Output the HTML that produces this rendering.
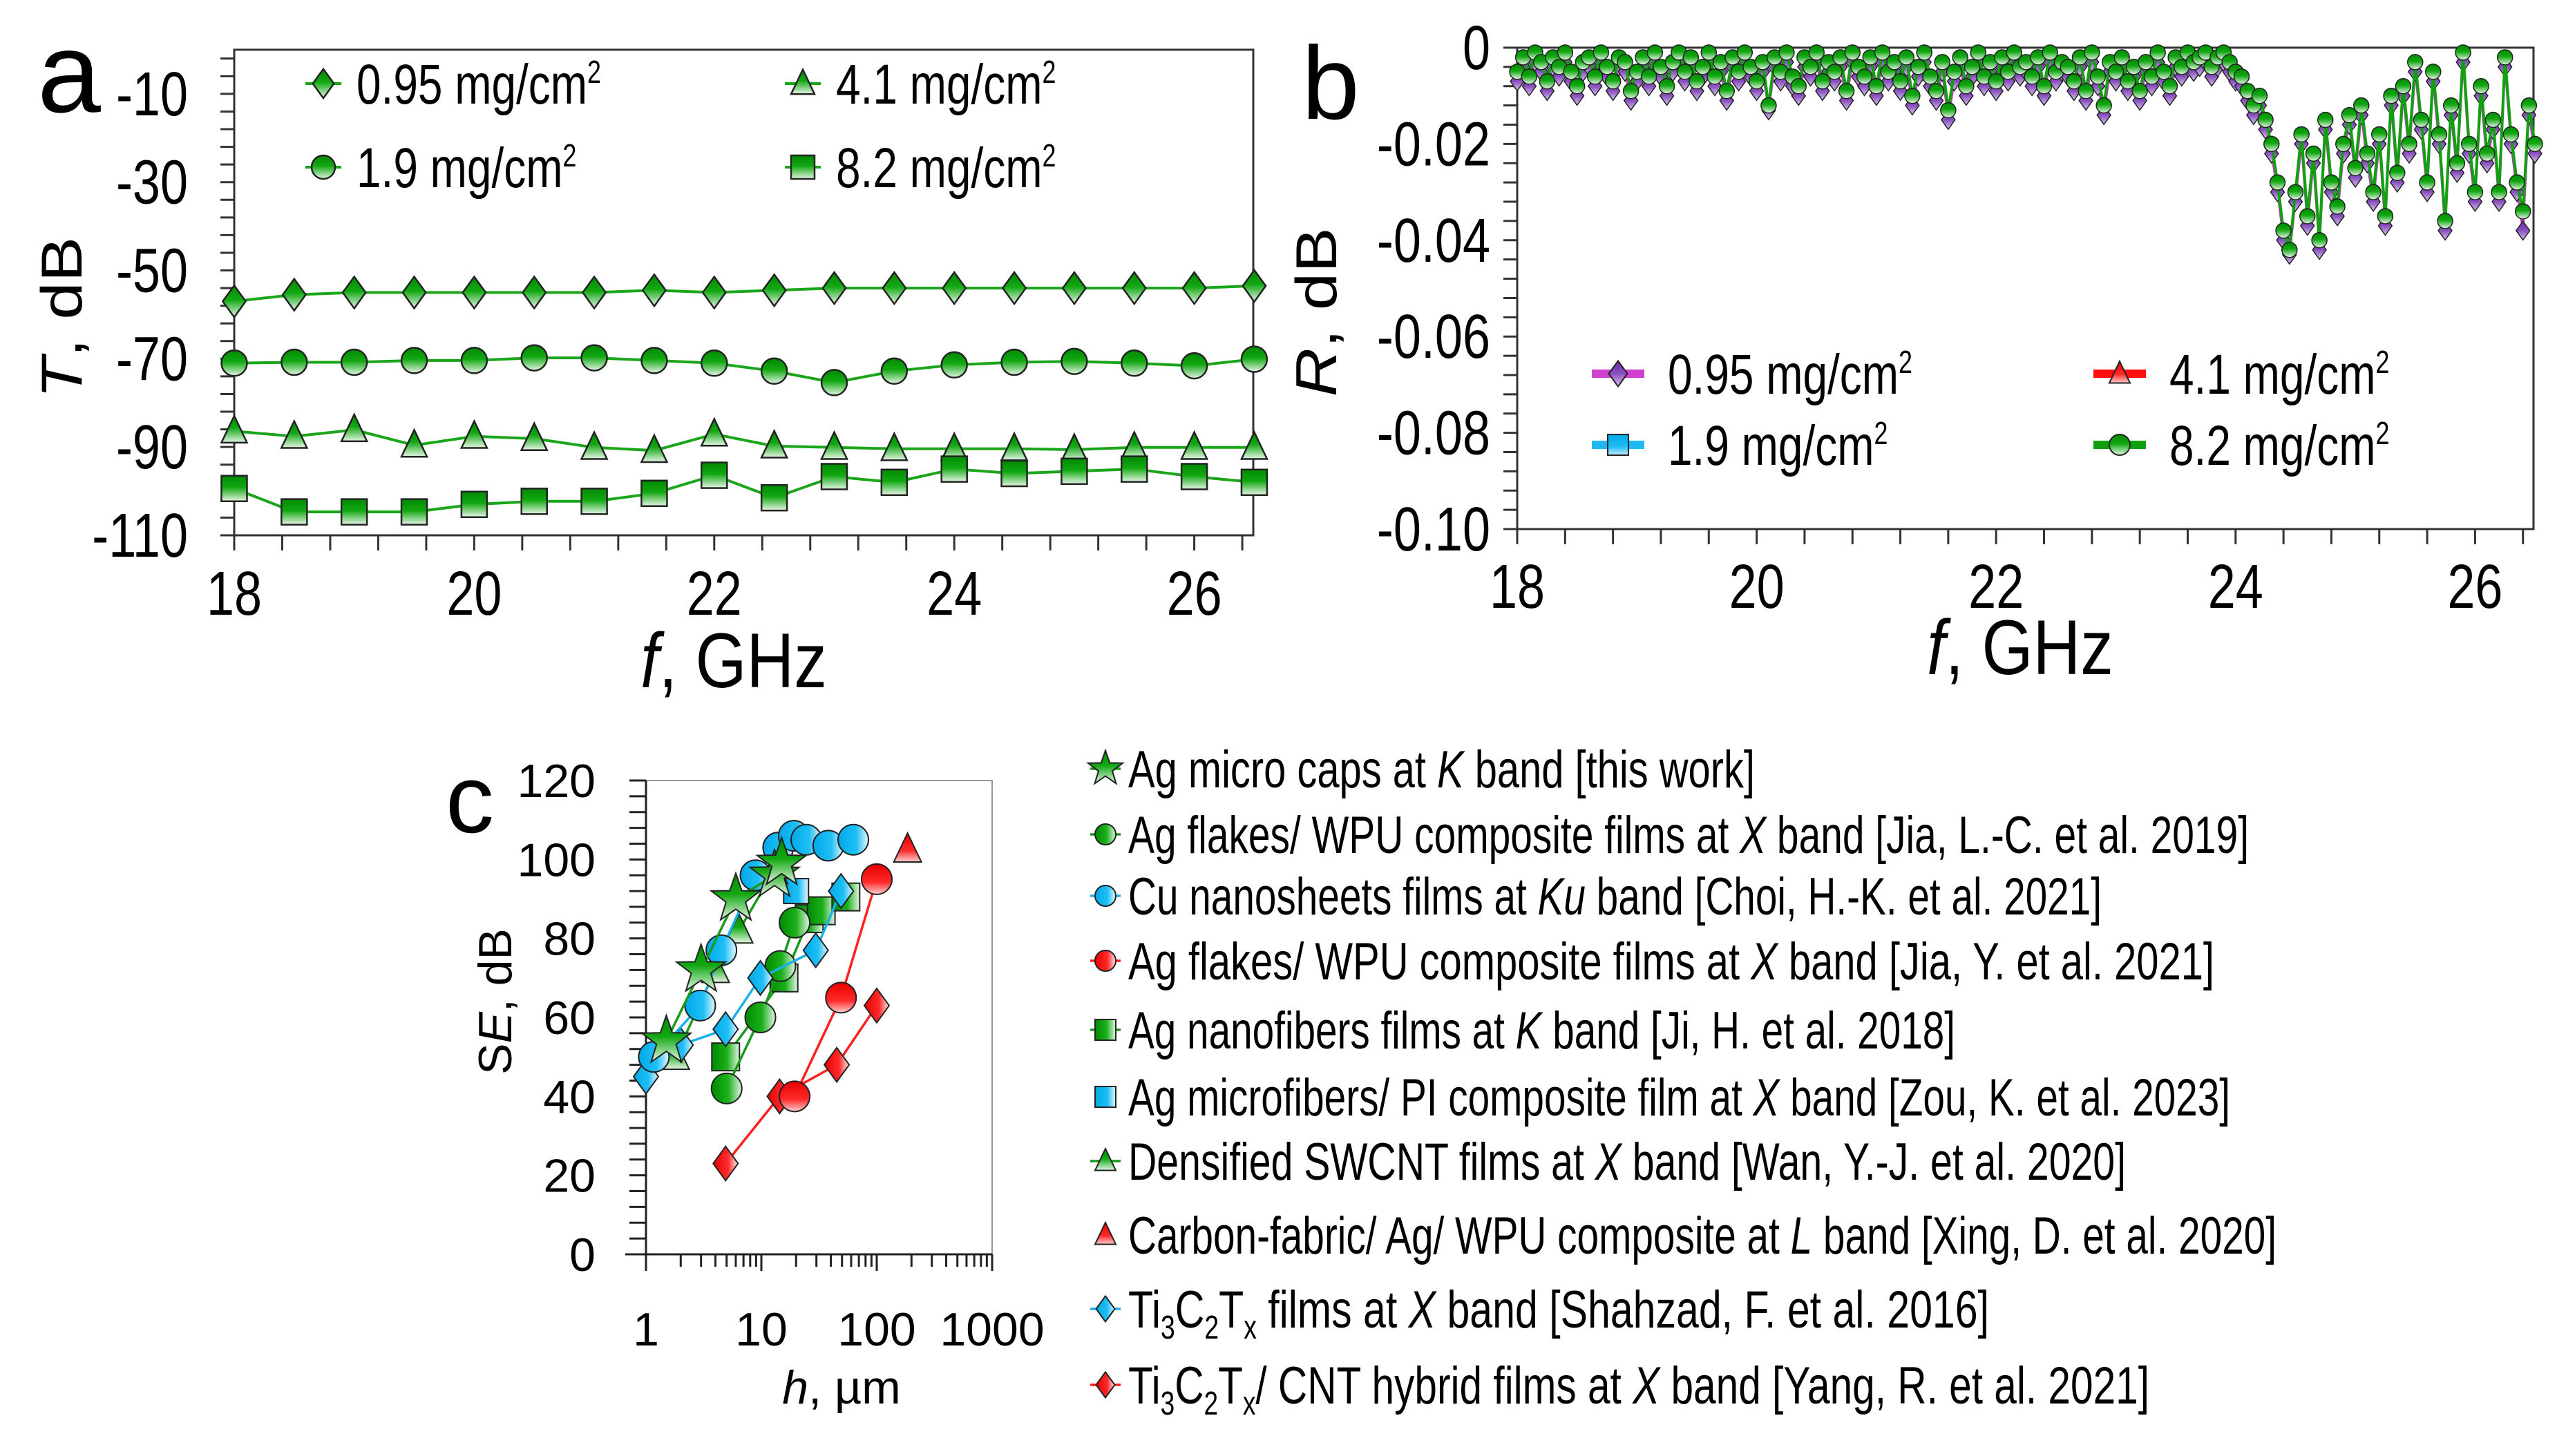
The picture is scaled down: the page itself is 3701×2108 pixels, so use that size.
<!DOCTYPE html>
<html><head><meta charset="utf-8">
<style>
html,body{margin:0;padding:0;background:#fff;}
svg{display:block;font-family:"Liberation Sans",Arial,sans-serif;}
</style></head>
<body>
<svg id="fig" width="3701" height="2108" viewBox="0 0 3701 2108" xmlns="http://www.w3.org/2000/svg">
<defs>
<linearGradient id="gG" x1="0" y1="0" x2="0" y2="1"><stop offset="0" stop-color="#008a00"/><stop offset="0.45" stop-color="#12a812"/><stop offset="1" stop-color="#e6f6e6"/></linearGradient>
<linearGradient id="gP" x1="0" y1="0" x2="0" y2="1"><stop offset="0" stop-color="#6a2aa0"/><stop offset="0.5" stop-color="#8a50c0"/><stop offset="1" stop-color="#d8c4ea"/></linearGradient>
<linearGradient id="gB" x1="0" y1="0" x2="0" y2="1"><stop offset="0" stop-color="#00a8e8"/><stop offset="0.6" stop-color="#20bff5"/><stop offset="1" stop-color="#c8eefc"/></linearGradient>
<linearGradient id="gR" x1="0" y1="0" x2="0" y2="1"><stop offset="0" stop-color="#e80000"/><stop offset="0.6" stop-color="#ff2a2a"/><stop offset="1" stop-color="#ffd0d0"/></linearGradient>
<linearGradient id="gGh" x1="0" y1="0" x2="1" y2="0"><stop offset="0" stop-color="#008a00"/><stop offset="0.55" stop-color="#1cb01c"/><stop offset="1" stop-color="#e6f6e6"/></linearGradient>
<linearGradient id="gBh" x1="0" y1="0" x2="1" y2="0"><stop offset="0" stop-color="#00a8e8"/><stop offset="0.6" stop-color="#20bff5"/><stop offset="1" stop-color="#e8f8ff"/></linearGradient>
<linearGradient id="gRh" x1="0" y1="0" x2="1" y2="0"><stop offset="0" stop-color="#e80000"/><stop offset="0.6" stop-color="#ff2a2a"/><stop offset="1" stop-color="#fff0f0"/></linearGradient>
</defs>
<g id="pa"></g>
<g id="pb"></g>
<g id="pc"></g>
</svg>
<script>
// ---------- Panel a data ----------
const aFreq = [18,18.5,19,19.5,20,20.5,21,21.5,22,22.5,23,23.5,24,24.5,25,25.5,26,26.5];
const aSeries095 = [-57,-55.5,-55,-55,-55,-55,-55,-54.5,-55,-54.5,-54,-54,-54,-54,-54,-54,-54,-53.5];
const aSeries19 = [-71,-70.8,-70.8,-70.4,-70.4,-69.8,-69.8,-70.4,-71,-72.8,-75.4,-72.8,-71.4,-70.8,-70.6,-71,-71.6,-70.1];
const aSeries41 = [-86.4,-87.6,-86.1,-89.6,-87.6,-88.1,-90.1,-90.8,-87.1,-89.8,-90.1,-90.4,-90.4,-90.4,-90.6,-90.1,-90.1,-90.1];
const aSeries82 = [-99.4,-104.7,-104.7,-104.7,-103,-102.3,-102.3,-100.5,-96.4,-101.5,-96.7,-98,-95,-96,-95.5,-95,-96.7,-98];
const aYTicks = [-10,-30,-50,-70,-90,-110];
const aXTicks = [18,20,22,24,26];
// ---------- Panel b data (x 18..26.5 step 0.05, values in 1e-3 dB, negative) ----------
const bStart = 18, bStep = 0.05;
const bGreen = [5,2,6,1,3,7,2,4,1,5,8,3,2,6,1,4,7,2,3,9,5,
2,6,1,4,8,3,1,5,2,7,4,1,6,3,9,2,5,1,4,7,
3,12,2,5,1,6,8,2,4,1,7,3,5,2,9,1,4,6,2,8,
1,5,3,7,2,10,4,1,6,9,3,13,5,2,8,4,1,6,3,7,
2,5,1,4,3,6,2,8,1,5,3,4,7,2,9,1,6,12,3,5,
2,7,4,9,3,6,1,5,8,2,4,1,3,2,1,4,2,1,3,5,
6,9,12,10,15,20,28,38,
42,30,18,35,22,40,15,28,33,20,14,25,
12,22,30,18,35,10,26,8,20,3,
15,28,5,18,36,12,24,1,20,30,
8,22,15,30,2,18,28,34,12,20];
const bPurple = [7,4,8,3,5,9,4,6,3,7,10,5,4,8,3,6,9,4,5,11,7,
4,8,3,6,10,5,3,7,4,9,6,3,8,5,11,4,7,3,6,9,
5,13,4,7,3,8,10,4,6,3,9,5,7,4,11,3,6,8,4,10,
3,7,5,9,4,12,6,3,8,11,5,15,7,4,10,6,3,8,5,9,
4,7,3,6,5,8,4,10,3,7,5,6,9,4,11,3,8,14,5,7,
4,9,6,11,5,8,3,7,10,4,6,3,5,4,3,6,4,3,5,7,
8,11,14,12,17,22,30,40,
43,32,20,37,24,42,17,30,35,22,16,27,
14,24,32,20,37,12,28,10,22,5,
17,30,7,20,38,14,26,3,22,32,
10,24,17,32,4,20,30,38,14,22];
const bYTicks = [0,-0.02,-0.04,-0.06,-0.08,-0.10];
const bYLabels = ["0","-0.02","-0.04","-0.06","-0.08","-0.10"];
const bXTicks = [18,20,22,24,26];
// ---------- Panel c data ----------
const cStarH = [1.5,3,6,13,15]; const cStarSE = [54,72,90,96,99];
const cGCircH = [5,9.8,14.6,19.4]; const cGCircSE = [42,60,73,84];
const cBCircH = [1.17,2.95,4.5,8.9,14,19.1,24.5,38,62.6]; const cBCircSE = [50,63,77,96,103,106,105,103.5,105];
const cRCircH = [19.4,49,100]; const cRCircSE = [40,65,95];
const cGSqH = [4.9,15.7,26,33,54]; const cGSqSE = [50,70,85,87,90.5];
const cBSqH = [20]; const cBSqSE = [92];
const cGTriH = [1.8,4,6.4,12.8]; const cGTriSE = [50,72,82,97];
const cRTriH = [185]; const cRTriSE = [102.5];
const cBDiaH = [1,2,4.9,9.8,29.6,49]; const cBDiaSE = [45,53,57,70,77,92];
const cRDiaH = [4.9,14.4,45,100]; const cRDiaSE = [23,40,48,63];
const cYTicks = [0,20,40,60,80,100,120];
const cXTicks = [1,10,100,1000];

const NS = "http://www.w3.org/2000/svg";
function mk(parent, tag, attrs, name){
  const e = document.createElementNS(NS, tag);
  for (const k in attrs) e.setAttribute(k, attrs[k]);
  
  
  parent.appendChild(e);
  return e;
}
function txt(parent, x, y, s, size, anchor, name, extra){
  const t = mk(parent, 'text', Object.assign({x:x, y:y, 'font-size':size, 'text-anchor':anchor||'start', fill:'#000'}, extra||{}), name);
  t.innerHTML = s;
  return t;
}
// narrow text: tall font compressed horizontally
function ntxt(parent, x, y, s, size, anchor, name, sx){
  const t = mk(parent, 'text', {x:0, y:0, 'font-size':size, 'text-anchor':anchor||'start', fill:'#000', transform:`translate(${x},${y}) scale(${sx||0.78},1)`}, name);
  t.innerHTML = s;
  return t;
}
function marker(parent, shape, cx, cy, s, fill, name, sw){
  sw = sw || 2.5;
  const st = {fill:fill, stroke:'#222', 'stroke-width':sw};
  if (shape==='circle') return mk(parent,'ellipse',Object.assign({cx:cx,cy:cy,rx:s/2,ry:s/2},st),name);
  if (shape==='square') return mk(parent,'rect',Object.assign({x:cx-s/2,y:cy-s/2,width:s,height:s},st),name);
  if (shape==='diamond') return mk(parent,'polygon',Object.assign({points:`${cx},${cy-s*0.62} ${cx+s*0.45},${cy} ${cx},${cy+s*0.62} ${cx-s*0.45},${cy}`},st),name);
  if (shape==='triangle') return mk(parent,'polygon',Object.assign({points:`${cx},${cy-s*0.6} ${cx+s*0.5},${cy+s*0.45} ${cx-s*0.5},${cy+s*0.45}`},st),name);
  if (shape==='star'){
    let p=[]; for(let i=0;i<10;i++){const r=i%2?s*0.24:s*0.6; const a=-Math.PI/2+i*Math.PI/5; p.push((cx+r*Math.cos(a)).toFixed(1)+','+(cy+r*Math.sin(a)).toFixed(1));}
    return mk(parent,'polygon',Object.assign({points:p.join(' ')},st),name);
  }
}

// ===================== Panel a =====================
(function(){
  const g = document.getElementById('pa');
  const L=339,R=1814,T=72,B=775;
  const xa = f => L + (f-18)*173.7;
  const ya = v => T + (0-v)*(B-T)/110;
  mk(g,'rect',{x:L,y:T,width:R-L,height:B-T,fill:'none',stroke:'#333','stroke-width':3},'plot-frame-a');
  for(let v=-110; v<=0.01; v+=4){ mk(g,'line',{x1:L-20,y1:ya(v),x2:L,y2:ya(v),stroke:'#333','stroke-width':3},'y-tick-a'); }
  for(let f=18; f<=26.5; f+=0.4){ mk(g,'line',{x1:xa(f),y1:B,x2:xa(f),y2:B+22,stroke:'#333','stroke-width':3},'x-tick-a'); }
  aYTicks.forEach(v=>ntxt(g, 272, ya(v)+31, String(v), 90, 'end', 'y-tick-label-a', 0.8));
  aXTicks.forEach(f=>ntxt(g, xa(f), 890, String(f), 90, 'middle', 'x-tick-label-a', 0.8));
  ntxt(g, 1062, 995, '<tspan font-style="italic">f</tspan>, GHz', 112, 'middle', 'x-axis-title-a', 0.85);
  txt(g, 0, 0, '<tspan font-style="italic">T</tspan>, dB', 98, 'middle', 'y-axis-title-a', {transform:'translate(118,460) rotate(-90) scale(1,0.85)'});
  txt(g, 100, 162, 'a', 165, 'middle', 'panel-label-a');
  const series = [[aSeries095,'diamond','series-0.95'],[aSeries19,'circle','series-1.9'],[aSeries41,'triangle','series-4.1'],[aSeries82,'square','series-8.2']];
  series.forEach(([vals,shape,nm])=>{
    const pts = vals.map((v,i)=>xa(aFreq[i]).toFixed(1)+','+ya(v).toFixed(1)).join(' ');
    mk(g,'polyline',{points:pts,fill:'none',stroke:'#1aa51a','stroke-width':4},'line-'+nm);
    vals.forEach((v,i)=>marker(g,shape,xa(aFreq[i]),ya(v),37,'url(#gG)','marker-'+nm));
  });
  const leg = [[468,121,'diamond','0.95'],[468,242,'circle','1.9'],[1162,121,'triangle','4.1'],[1162,242,'square','8.2']];
  leg.forEach(([x,y,shape,lab])=>{
    mk(g,'line',{x1:x-26,y1:y,x2:x+26,y2:y,stroke:'#1aa51a','stroke-width':4},'legend-line-a');
    marker(g,shape,x,y,34,'url(#gG)','legend-marker-a');
    ntxt(g, x+48, y+29, lab+' mg/cm<tspan dy="-30" font-size="46">2</tspan>', 82, 'start', 'legend-entry-a', 0.78);
  });
})();

// ===================== Panel b =====================
(function(){
  const g = document.getElementById('pb');
  const L=2196,R=3667,T=69,B=766;
  const xb = f => L + (f-18)*173.3;
  const yb = v => T + (0-v)*(B-T)/0.1;
  mk(g,'rect',{x:L,y:T,width:R-L,height:B-T,fill:'none',stroke:'#333','stroke-width':3},'plot-frame-b');
  for(let k=0;k<=25;k++){ const v=-k*0.004; mk(g,'line',{x1:L-20,y1:yb(v),x2:L,y2:yb(v),stroke:'#333','stroke-width':3},'y-tick-b'); }
  for(let f=18; f<=26.5; f+=0.4){ mk(g,'line',{x1:xb(f),y1:B,x2:xb(f),y2:B+22,stroke:'#333','stroke-width':3},'x-tick-b'); }
  bYTicks.forEach((v,i)=>ntxt(g, 2157, yb(v)+31, bYLabels[i], 90, 'end', 'y-tick-label-b', 0.8));
  bXTicks.forEach(f=>ntxt(g, xb(f), 880, String(f), 90, 'middle', 'x-tick-label-b', 0.8));
  ntxt(g, 2924, 976, '<tspan font-style="italic">f</tspan>, GHz', 112, 'middle', 'x-axis-title-b', 0.85);
  txt(g, 0, 0, '<tspan font-style="italic">R</tspan>, dB', 98, 'middle', 'y-axis-title-b', {transform:'translate(1934,452) rotate(-90) scale(1,0.85)'});
  txt(g, 1926, 172, 'b', 150, 'middle', 'panel-label-b');
  const xs = i => xb(bStart + i*bStep);
  const pp = bPurple.map((v,i)=>xs(i).toFixed(1)+','+yb(-v/1000).toFixed(1)).join(' ');
  mk(g,'polyline',{points:pp,fill:'none',stroke:'#c040c0','stroke-width':3},'line-0.95-b');
  bPurple.forEach((v,i)=>marker(g,'diamond',xs(i),yb(-v/1000),22,'url(#gP)','marker-0.95-b',1.5));
  const gp = bGreen.map((v,i)=>xs(i).toFixed(1)+','+yb(-v/1000).toFixed(1)).join(' ');
  mk(g,'polyline',{points:gp,fill:'none',stroke:'#10a010','stroke-width':4},'line-8.2-b');
  bGreen.forEach((v,i)=>marker(g,'circle',xs(i),yb(-v/1000),22,'url(#gG)','marker-8.2-b',1.5));
  const leg = [[2342,541,'diamond','#d040d0','url(#gP)','0.95'],[2342,644,'square','#20b8f0','url(#gB)','1.9'],[3068,541,'triangle','#ff1010','url(#gR)','4.1'],[3068,644,'circle','#10a010','url(#gG)','8.2']];
  leg.forEach(([x,y,shape,lc,fill,lab])=>{
    mk(g,'line',{x1:x-38,y1:y,x2:x+38,y2:y,stroke:lc,'stroke-width':12},'legend-line-b');
    marker(g,shape,x,y,30,fill,'legend-marker-b',2);
    ntxt(g, x+72, y+29, lab+' mg/cm<tspan dy="-30" font-size="46">2</tspan>', 82, 'start', 'legend-entry-b', 0.78);
  });
})();

// ===================== Panel c =====================
(function(){
  const g = document.getElementById('pc');
  const L=935,R=1436,T=1130,B=1816;
  const xc = h => L + Math.log10(h)*167;
  const yc = s => B - s*(B-T)/120;
  mk(g,'rect',{x:L,y:T,width:R-L,height:B-T,fill:'none',stroke:'#999','stroke-width':2},'plot-frame-c');
  mk(g,'line',{x1:L,y1:T,x2:L,y2:B,stroke:'#222','stroke-width':3},'y-axis-c');
  mk(g,'line',{x1:L-30,y1:B,x2:R,y2:B,stroke:'#222','stroke-width':3},'x-axis-c');
  for(let v=0; v<=120; v+=4){ mk(g,'line',{x1:L-24,y1:yc(v),x2:L,y2:yc(v),stroke:'#222','stroke-width':3},'y-tick-c'); }
  for(let d=1; d<=100; d*=10){ for(let m=1;m<=9;m++){ const h=d*m; mk(g,'line',{x1:xc(h),y1:B,x2:xc(h),y2:B+(m===1?24:18),stroke:'#222','stroke-width':3},'x-tick-c'); } }
  mk(g,'line',{x1:xc(1000),y1:B,x2:xc(1000),y2:B+24,stroke:'#222','stroke-width':3},'x-tick-c');
  cYTicks.forEach(v=>txt(g, 862, yc(v)+24, String(v), 68, 'end', 'y-tick-label-c'));
  cXTicks.forEach(h=>txt(g, xc(h), 1948, String(h), 68, 'middle', 'x-tick-label-c'));
  txt(g, 1218, 2032, '<tspan font-style="italic">h</tspan>, µm', 68, 'middle', 'x-axis-title-c');
  txt(g, 0, 0, 'S<tspan font-style="italic">E</tspan>, dB', 68, 'middle', 'y-axis-title-c', {transform:'translate(740,1450) rotate(-90)'});
  txt(g, 680, 1205, 'c', 140, 'middle', 'panel-label-c');
  function series(H, S, shape, fill, lc, size, nm){
    if (lc && H.length>1){
      const pts = H.map((h,i)=>xc(h).toFixed(1)+','+yc(S[i]).toFixed(1)).join(' ');
      mk(g,'polyline',{points:pts,fill:'none',stroke:lc,'stroke-width':3.5},'line-'+nm);
    }
    H.forEach((h,i)=>marker(g,shape,xc(h),yc(S[i]),size,fill,'marker-'+nm,2));
  }
  series(cRDiaH,cRDiaSE,'diamond','url(#gRh)','#ff2020',40,'ti3c2tx-cnt');
  series(cRCircH,cRCircSE,'circle','url(#gR)','#ff2020',44,'ag-flakes-wpu-2021');
  series(cRTriH,cRTriSE,'triangle','url(#gR)',null,40,'carbon-fabric-ag-wpu');
  series(cGSqH,cGSqSE,'square','url(#gGh)','#1a9a1a',40,'ag-nanofibers');
  series(cGCircH,cGCircSE,'circle','url(#gGh)','#1a9a1a',44,'ag-flakes-wpu-2019');
  series(cBSqH,cBSqSE,'square','url(#gBh)',null,36,'ag-microfibers-pi');
  series(cGTriH,cGTriSE,'triangle','url(#gG)','#1a9a1a',40,'densified-swcnt');
  series(cBDiaH,cBDiaSE,'diamond','url(#gBh)','#1ab0e8',40,'ti3c2tx');
  series(cBCircH,cBCircSE,'circle','url(#gBh)','#1ab0e8',44,'cu-nanosheets');
  series(cStarH,cStarSE,'star','url(#gG)','#1a9a1a',62,'ag-micro-caps');
  // legend
  const lx = 1600;
  const legY = [1113,1208,1297,1391,1491,1588,1681,1788,1895,2005];
  const legEnd = [2540,3255,3042,3205,2830,3228,3077,3295,2879,3111];
  const legShape = ['star','circle','circle','circle','square','square','triangle','triangle','diamond','diamond'];
  const legFill = ['url(#gG)','url(#gGh)','url(#gBh)','url(#gRh)','url(#gGh)','url(#gBh)','url(#gG)','url(#gR)','url(#gBh)','url(#gRh)'];
  const legLine = ['#1a9a1a','#1a9a1a','#1ab0e8','#ff2020','#1a9a1a',null,'#1a9a1a',null,'#1ab0e8','#ff2020'];
  const legText = [
    'Ag micro caps at <tspan font-style="italic">K</tspan> band  [this work]',
    'Ag flakes/ WPU composite films at <tspan font-style="italic">X</tspan> band [Jia, L.-C. et al. 2019]',
    'Cu nanosheets films at <tspan font-style="italic">Ku</tspan> band [Choi, H.-K. et al. 2021]',
    'Ag flakes/ WPU composite films at <tspan font-style="italic">X</tspan> band  [Jia, Y. et al. 2021]',
    'Ag nanofibers films at <tspan font-style="italic">K</tspan> band [Ji, H. et al. 2018]',
    'Ag microfibers/ PI composite film at <tspan font-style="italic">X</tspan> band [Zou, K. et al. 2023]',
    'Densified SWCNT films at <tspan font-style="italic">X</tspan> band [Wan, Y.-J. et al. 2020]',
    'Carbon-fabric/ Ag/ WPU composite at <tspan font-style="italic">L</tspan> band [Xing, D. et al. 2020]',
    'Ti<tspan dy="16" font-size="48">3</tspan><tspan dy="-16">C</tspan><tspan dy="16" font-size="48">2</tspan><tspan dy="-16">T</tspan><tspan dy="16" font-size="48">x</tspan><tspan dy="-16">  films at </tspan><tspan font-style="italic">X</tspan> band [Shahzad, F. et al. 2016]',
    'Ti<tspan dy="16" font-size="48">3</tspan><tspan dy="-16">C</tspan><tspan dy="16" font-size="48">2</tspan><tspan dy="-16">T</tspan><tspan dy="16" font-size="48">x</tspan><tspan dy="-16">/ CNT hybrid films at </tspan><tspan font-style="italic">X</tspan> band [Yang, R. et al. 2021]'
  ];
  legY.forEach((y,i)=>{
    if (legLine[i]) mk(g,'line',{x1:lx-22,y1:y,x2:lx+22,y2:y,stroke:legLine[i],'stroke-width':3.5},'legend-line-c');
    marker(g,legShape[i],lx,y,legShape[i]==='star'?44:30,legFill[i],'legend-marker-c',2);
    txt(g, 1633, y+27, legText[i], 76, 'start', 'legend-entry-c', {textLength:legEnd[i]-1633, lengthAdjust:'spacingAndGlyphs'});
  });
})();
</script>
</body></html>
